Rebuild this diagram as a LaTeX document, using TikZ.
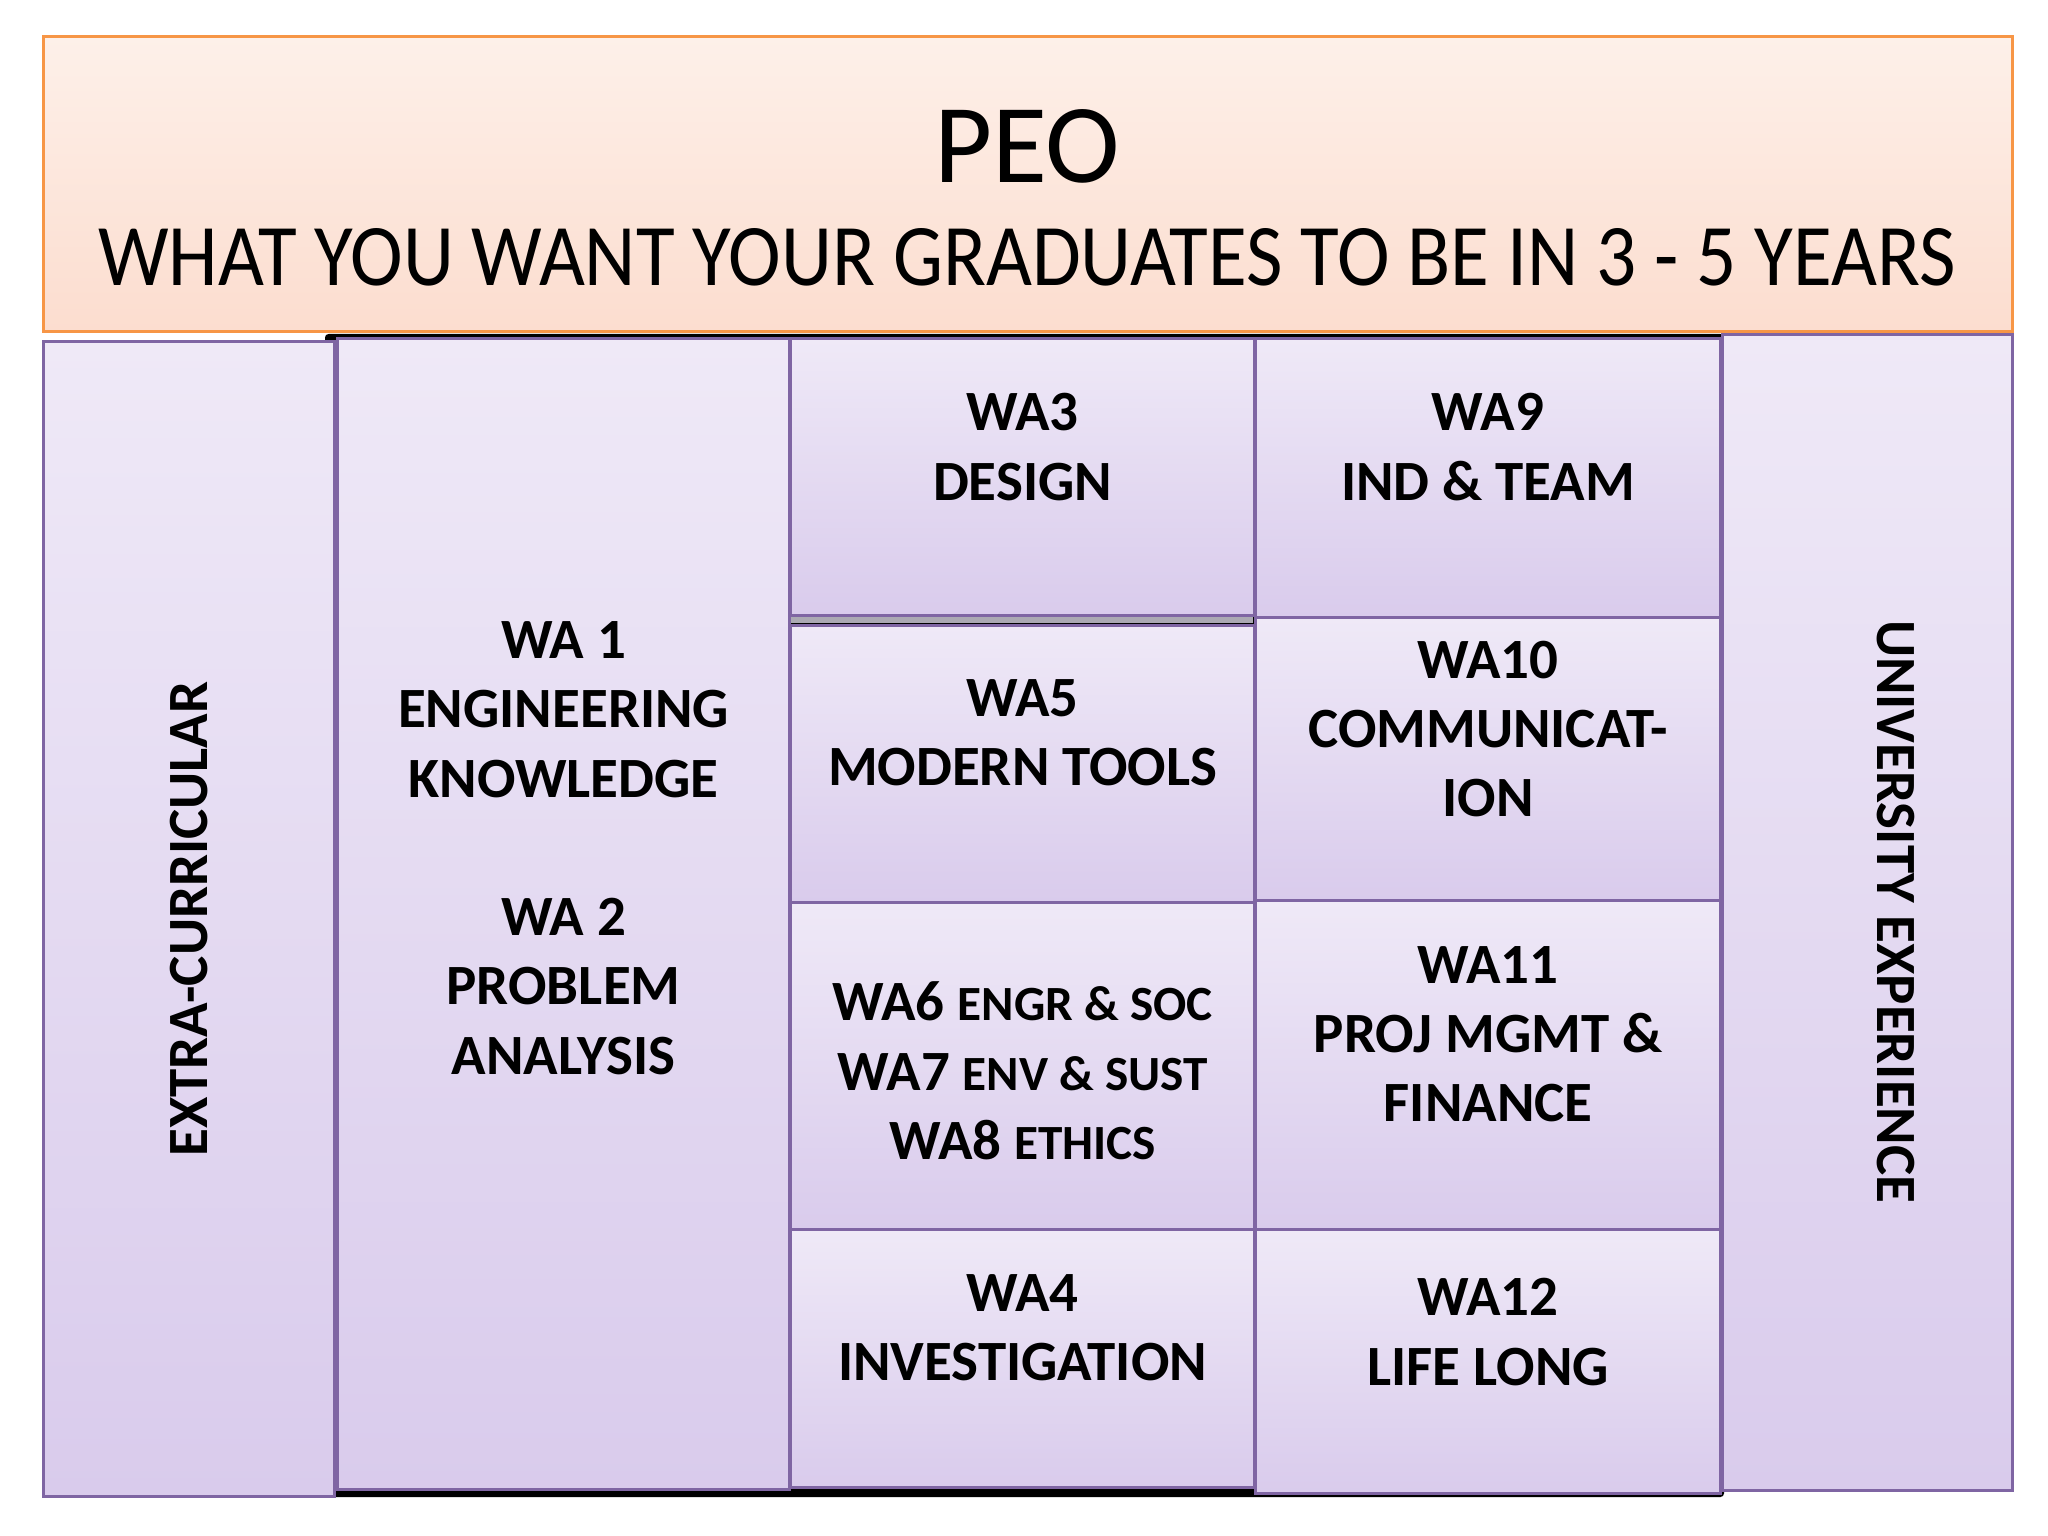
\documentclass[tikz,border=0pt]{standalone}
\usepackage{fontspec}
\setmainfont{Carlito}
\usepackage{tikz}
\usetikzlibrary{calc,positioning,backgrounds}
\definecolor{peoline}{HTML}{F79646}
\definecolor{peotop}{HTML}{FDF0E9}
\definecolor{peobot}{HTML}{FCDDCF}
\definecolor{waline}{HTML}{7F65A3}
\definecolor{watop}{HTML}{EFE9F7}
\definecolor{wabot}{HTML}{D9CBEC}
\definecolor{gapgray}{HTML}{ABA9B3}
\tikzset{
  peobox/.style={draw=peoline, line width=0.9pt, top color=peotop, bottom color=peobot,
    anchor=north west, inner sep=0pt},
  wabox/.style={draw=waline, line width=0.9pt, top color=watop, bottom color=wabot,
    anchor=north west, inner sep=0pt},
  watext/.style={font=\fontsize{16.2}{19.7}\selectfont\bfseries, align=center, inner sep=0pt},
  sidetext/.style={font=\fontsize{16.2}{20}\selectfont\bfseries, inner sep=0pt},
}
\newcommand{\smallcap}[1]{{\fontsize{14}{19.7}\selectfont #1}}

\begin{document}
\begin{tikzpicture}[x=1cm,y=-1cm]
  \fill[white] (0,0) rectangle (20.48,15.36);
  \useasboundingbox (0,0) rectangle (20.48,15.36);

  % header
  \node (peo) [peobox, minimum width=19.69cm, minimum height=2.95cm] at (0.42,0.35) {};
  \node (peot) [font=\fontsize{32}{36}\selectfont, inner sep=0pt] at (10.27,1.46) {PEO};
  \node (peosub) [font=\fontsize{25}{28}\selectfont, inner sep=0pt] at (10.27,2.57)
    {\resizebox{18.57cm}{\height}{WHAT YOU WANT YOUR GRADUATES TO BE IN 3 - 5 YEARS}};

  % dark backing behind the inner grid
  \fill[black, rounded corners=1pt] (3.25,3.34) rectangle (17.24,14.97);
  \fill[gapgray] (7.89,6.15) rectangle (12.53,6.23);

  % side columns
  \node (extra) [wabox, minimum width=2.91cm, minimum height=11.55cm] at (0.42,3.40) {};
  \node (univ) [wabox, minimum width=2.90cm, minimum height=11.56cm] at (17.21,3.33) {};
  \node (extrat) [sidetext, rotate=90] at (extra.center) {EXTRA-CURRICULAR};
  \node (univt) [sidetext, rotate=-90] at ($(univ.center)+(0.28,-0.01)$) {UNIVERSITY EXPERIENCE};

  % WA1 / WA2 column
  \node (wa1) [wabox, minimum width=4.52cm, minimum height=11.51cm] at (3.36,3.37) {};
  \node (wa1t) [watext] at ($(wa1.north)+(0,5.11)$)
    {WA 1\\ENGINEERING\\KNOWLEDGE\\[19.7pt]WA 2\\PROBLEM\\ANALYSIS};

  % middle column
  \node (wa3) [wabox, minimum width=4.64cm, minimum height=2.77cm] at (7.89,3.37) {};
  \node (wa5) [wabox, minimum width=4.64cm, minimum height=2.77cm] at (7.89,6.24) {};
  \node (wa6) [wabox, minimum width=4.64cm, minimum height=3.27cm] at (7.89,9.01) {};
  \node (wa4) [wabox, minimum width=4.64cm, minimum height=2.58cm] at (7.89,12.28) {};
  \node (wa3t) [watext] at ($(wa3.north)+(0,1.10)$) {WA3\\DESIGN};
  \node (wa5t) [watext] at ($(wa5.north)+(0,1.09)$) {WA5\\MODERN TOOLS};
  \node (wa6t) [watext] at ($(wa6.north)+(0,1.70)$)
    {WA6 \smallcap{ENGR \& SOC}\\WA7 \smallcap{ENV \& SUST}\\WA8 \smallcap{ETHICS}};
  \node (wa4t) [watext] at ($(wa4.north)+(0,1.00)$) {WA4\\INVESTIGATION};

  % right column
  \node (wa9) [wabox, minimum width=4.65cm, minimum height=2.79cm] at (12.54,3.37) {};
  \node (wa10) [wabox, minimum width=4.65cm, minimum height=2.83cm] at (12.54,6.16) {};
  \node (wa11) [wabox, minimum width=4.65cm, minimum height=3.29cm] at (12.54,8.99) {};
  \node (wa12) [wabox, minimum width=4.65cm, minimum height=2.64cm] at (12.54,12.28) {};
  \node (wa9t) [watext] at ($(wa9.north)+(0,1.10)$) {WA9\\IND \& TEAM};
  \node (wa10t) [watext] at ($(wa10.north)+(0,1.13)$) {WA10\\COMMUNICAT-\\ION};
  \node (wa11t) [watext] at ($(wa11.north)+(0,1.35)$) {WA11\\PROJ MGMT \&\\FINANCE};
  \node (wa12t) [watext] at ($(wa12.north)+(0,1.04)$) {WA12\\LIFE LONG};
\end{tikzpicture}
\end{document}
